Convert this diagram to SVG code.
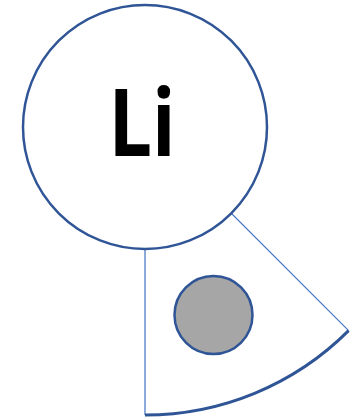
<svg xmlns="http://www.w3.org/2000/svg" width="361" height="419" viewBox="0 0 361 419">
<style>
.thin{stroke:#4472C4;stroke-width:1.2;fill:none}
.arc{stroke:#2F5597;stroke-width:3;fill:none}
.ring{stroke:#2F5597;stroke-width:2.5}
</style>
<rect width="361" height="419" fill="#ffffff"/>
<g id="sector">
<path d="M145,127 L145,415 A288,288 0 0 0 348.6,330.6 Z" fill="#ffffff" stroke="none"/>
<path class="thin" d="M145,127 L145,415 M145,127 L348.6,330.6"/>
<path class="arc" d="M145,415 A288,288 0 0 0 348.6,330.6"/>
</g>
<g id="atom">
<circle class="ring" cx="145" cy="127" r="122" fill="#ffffff"/>
<text transform="translate(142,156) scale(0.83,1)" x="0" y="0" text-anchor="middle" font-family="'Open Sans', 'Liberation Sans', sans-serif" font-weight="bold" font-size="93" fill="#000000">Li</text>
</g>
<g id="electron">
<circle class="ring" cx="213.5" cy="315" r="39" fill="#A6A6A6"/>
</g>
</svg>
